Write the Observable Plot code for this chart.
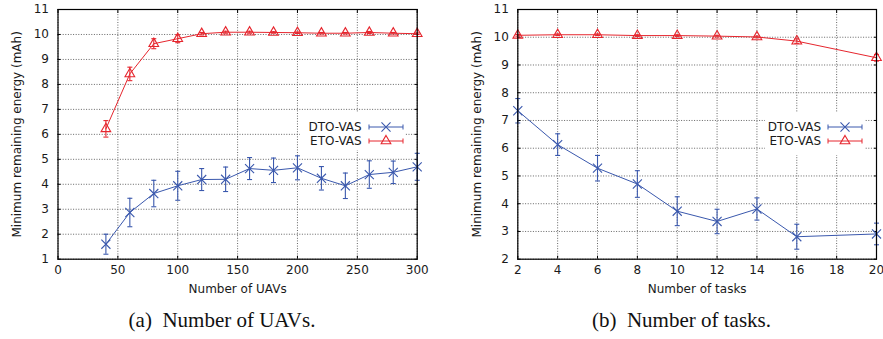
<!DOCTYPE html>
<html>
<head>
<meta charset="utf-8">
<script src="https://cdn.jsdelivr.net/npm/d3@7"></script>
<script src="https://cdn.jsdelivr.net/npm/@observablehq/plot@0.6"></script>
<style>
  html, body { margin: 0; padding: 0; background: #fff; }
  #root { position: relative; width: 883px; height: 339px; overflow: hidden; }
  .panel { position: absolute; top: 0; }
  .caption { position: absolute; width: 300px; text-align: center; font-family: "Liberation Serif", "Times New Roman", serif; font-size: 21px; line-height: 1; color: #111; white-space: pre; }
  .legend { position: absolute; background: #fff; }
</style>
</head>
<body>
<div id="root"></div>
<script>
// ---------- Data ----------
const seriesNames = ["DTO-VAS", "ETO-VAS"];

// (a) Number of UAVs
const uavX = [40, 60, 80, 100, 120, 140, 160, 180, 200, 220, 240, 260, 280, 300];
const uavDTO = [1.60, 2.87, 3.63, 3.94, 4.19, 4.20, 4.63, 4.56, 4.66, 4.24, 3.94, 4.39, 4.48, 4.70];
const uavDTOerr = [0.40, 0.57, 0.53, 0.58, 0.44, 0.49, 0.44, 0.49, 0.48, 0.47, 0.51, 0.55, 0.45, 0.54];
const uavETO = [6.22, 8.42, 9.63, 9.83, 10.03, 10.09, 10.09, 10.08, 10.07, 10.05, 10.05, 10.08, 10.05, 10.03];
const uavETOerr = [0.33, 0.27, 0.20, 0.16, 0.05, 0.04, 0.04, 0.03, 0.03, 0.03, 0.03, 0.04, 0.03, 0.03];
const uavXTicks = [0, 50, 100, 150, 200, 250, 300];
const uavYTicks = [1, 2, 3, 4, 5, 6, 7, 8, 9, 10, 11];

// (b) Number of tasks
const taskX = [2, 4, 6, 8, 10, 12, 14, 16, 20];
const taskDTO = [7.35, 6.13, 5.28, 4.71, 3.73, 3.36, 3.81, 2.81, 2.91];
const taskDTOerr = [0.44, 0.39, 0.46, 0.48, 0.52, 0.44, 0.40, 0.45, 0.39];
const taskETO = [10.07, 10.09, 10.09, 10.06, 10.06, 10.04, 10.01, 9.86, 9.26];
const taskETOerr = [0.03, 0.03, 0.03, 0.03, 0.03, 0.03, 0.03, 0.08, 0.12];
const taskXTicks = [2, 4, 6, 8, 10, 12, 14, 16, 18, 20];
const taskYTicks = [2, 3, 4, 5, 6, 7, 8, 9, 10, 11];

const yLabel = "Minimum remaining energy (mAh)";
const colors = { "DTO-VAS": "#3a58ad", "ETO-VAS": "#e6262e" };

// ---------- Helpers ----------
const capSymbol = {
  draw(context, size) {
    const w = Math.sqrt(size / Math.PI);
    context.moveTo(-w, 0);
    context.lineTo(w, 0);
  }
};

function rows(xs, ys, es) {
  return xs.map((x, i) => ({ x, y: ys[i], e: es[i] }));
}

function seriesMarks(data, name, symbol) {
  const c = colors[name];
  return [
    Plot.ruleX(data, { x: "x", y1: d => d.y - d.e, y2: d => d.y + d.e, stroke: c, strokeWidth: 1.1 }),
    Plot.dot(data, { x: "x", y: d => d.y - d.e, symbol: capSymbol, r: 2.5, stroke: c, strokeWidth: 1.1 }),
    Plot.dot(data, { x: "x", y: d => d.y + d.e, symbol: capSymbol, r: 2.5, stroke: c, strokeWidth: 1.1 }),
    Plot.line(data, { x: "x", y: "y", stroke: c, strokeWidth: 1 }),
    Plot.dot(data, { x: "x", y: "y", symbol, r: symbol === "times" ? 4.2 : 3.6, stroke: c, fill: "none", strokeWidth: 1.1 })
  ];
}

function panel({ width, marginLeft, marginRight, xDomain, yDomain, xTicks, yTicks, xLabel, dto, eto }) {
  const tickStyle = { stroke: "#000", strokeWidth: 1, fill: "none", label: null, tickSize: 3 };
  return Plot.plot({
    width,
    height: 300,
    marginLeft,
    marginRight,
    marginTop: 9,
    marginBottom: 41.3,
    style: { fontFamily: "DejaVu Sans, sans-serif", fontSize: "12px", color: "#1a1a1a", background: "transparent", overflow: "visible" },
    x: { domain: xDomain },
    y: { domain: yDomain },
    marks: [
      Plot.gridX(xTicks, { stroke: "#555", strokeOpacity: 0.9, strokeDasharray: "1,1.6", strokeWidth: 1 }),
      Plot.gridY(yTicks, { stroke: "#555", strokeOpacity: 0.9, strokeDasharray: "1,1.6", strokeWidth: 1 }),
      Plot.axisX(xTicks, { anchor: "bottom", tickSize: 0, tickPadding: 6, label: xLabel, labelAnchor: "center", labelArrow: "none", labelOffset: 34 }),
      Plot.axisY(yTicks, { anchor: "left", tickSize: 0, tickPadding: 9, label: yLabel, labelAnchor: "center", labelArrow: "none", labelOffset: 45.5 }),
      Plot.axisX(xTicks, { anchor: "bottom", dy: -3, ...tickStyle }),
      Plot.axisX(xTicks, { anchor: "top", dy: 3, ...tickStyle }),
      Plot.axisY(yTicks, { anchor: "left", dx: 3, ...tickStyle }),
      Plot.axisY(yTicks, { anchor: "right", dx: -3, ...tickStyle }),
      ...seriesMarks(dto, "DTO-VAS", "times"),
      ...seriesMarks(eto, "ETO-VAS", "triangle"),
      Plot.frame({ stroke: "#000", strokeWidth: 1.2 })
    ]
  });
}

function legend({ left, top, width, height, textEnd, y0, lineX1, lineX2 }) {
  const div = document.createElement("div");
  div.className = "legend";
  Object.assign(div.style, { left: left + "px", top: top + "px", width: width + "px", height: height + "px" });
  const svg = d3.create("svg").attr("width", width).attr("height", height)
    .style("font-family", "DejaVu Sans, sans-serif").style("font-size", "12px");
  seriesNames.forEach((name, i) => {
    const y = y0 + i * 14;
    const c = colors[name];
    svg.append("text").attr("x", textEnd).attr("y", y).attr("dy", "0.36em")
      .attr("text-anchor", "end").attr("fill", "#1a1a1a").text(name);
    svg.append("line").attr("x1", lineX1).attr("x2", lineX2).attr("y1", y).attr("y2", y)
      .attr("stroke", c).attr("stroke-width", 1);
    [lineX1, lineX2].forEach(x => svg.append("line").attr("x1", x).attr("x2", x)
      .attr("y1", y - 2.5).attr("y2", y + 2.5).attr("stroke", c).attr("stroke-width", 1));
    const mx = (lineX1 + lineX2) / 2;
    const sym = i === 0 ? d3.symbolTimes : d3.symbolTriangle;
    const size = i === 0 ? 4.2 * 4.2 * Math.PI : 3.6 * 3.6 * Math.PI;
    svg.append("path").attr("d", d3.symbol(sym, size)()).attr("transform", `translate(${mx},${y})`)
      .attr("fill", "none").attr("stroke", c).attr("stroke-width", 1.1);
  });
  div.appendChild(svg.node());
  return div;
}

// ---------- Build ----------
const root = document.getElementById("root");

const left = panel({
  width: 440, marginLeft: 57.5, marginRight: 23.3,
  xDomain: [0, 300], yDomain: [1, 11], xTicks: uavXTicks, yTicks: uavYTicks,
  xLabel: "Number of UAVs",
  dto: rows(uavX, uavDTO, uavDTOerr), eto: rows(uavX, uavETO, uavETOerr)
});
left.classList.add("panel");
left.style.left = "0px";
left.style.position = "absolute";
root.appendChild(left);

const right = panel({
  width: 443, marginLeft: 77.3, marginRight: 7,
  xDomain: [2, 20], yDomain: [2, 11], xTicks: taskXTicks, yTicks: taskYTicks,
  xLabel: "Number of tasks",
  dto: rows(taskX, taskDTO, taskDTOerr), eto: rows(taskX, taskETO, taskETOerr)
});
right.classList.add("panel");
right.style.left = "440px";
right.style.position = "absolute";
root.appendChild(right);

root.appendChild(legend({ left: 300, top: 113, width: 105, height: 37, textEnd: 61.7, y0: 14, lineX1: 69, lineX2: 103 }));
root.appendChild(legend({ left: 765, top: 112, width: 100, height: 43, textEnd: 56, y0: 15, lineX1: 63, lineX2: 97 }));

function caption(text, center) {
  const d = document.createElement("div");
  d.className = "caption";
  d.style.left = (center - 150) + "px";
  d.style.top = "310px";
  d.textContent = text;
  root.appendChild(d);
}
caption("(a)  Number of UAVs.", 222);
caption("(b)  Number of tasks.", 681.5);
</script>
</body>
</html>
